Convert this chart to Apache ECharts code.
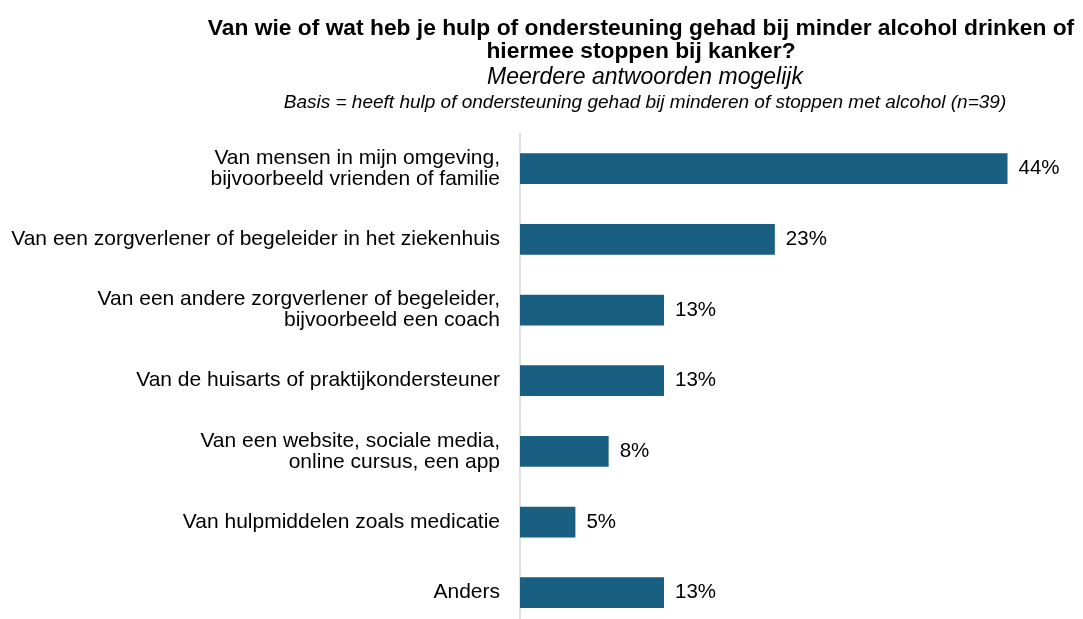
<!DOCTYPE html>
<html>
<head>
<meta charset="utf-8">
<script src="https://cdn.jsdelivr.net/npm/echarts@6/dist/echarts.min.js"></script>
<style>
  html, body { margin: 0; padding: 0; background: #fff; overflow: hidden; }
  /* the plot runs slightly past the lower edge of the page */
  #chart { width: 1083px; height: 628px; }
</style>
</head>
<body>
<div id="chart"></div>
<script>
// Answer categories (top to bottom) and share of respondents in percent
const categories = [
  'Van mensen in mijn omgeving,\nbijvoorbeeld vrienden of familie',
  'Van een zorgverlener of begeleider in het ziekenhuis',
  'Van een andere zorgverlener of begeleider,\nbijvoorbeeld een coach',
  'Van de huisarts of praktijkondersteuner',
  'Van een website, sociale media,\nonline cursus, een app',
  'Van hulpmiddelen zoals medicatie',
  'Anders'
];
const values = [44, 23, 13, 13, 8, 5, 13];

const titleLines = [
  'Van wie of wat heb je hulp of ondersteuning gehad bij minder alcohol drinken of',
  'hiermee stoppen bij kanker?'
];
const subtitle = 'Meerdere antwoorden mogelijk';
const basis = 'Basis = heeft hulp of ondersteuning gehad bij minderen of stoppen met alcohol (n=39)';

const FONT = '"Liberation Sans", Arial, sans-serif';
const chart = echarts.init(document.getElementById('chart'), null, { renderer: 'canvas' });

function titleBlock(text, cx, cy, size, weight, style) {
  return {
    text: text, left: cx, top: cy - size / 2, textAlign: 'center', padding: 0,
    textStyle: { fontFamily: FONT, fontSize: size, lineHeight: size,
      fontWeight: weight, fontStyle: style, color: '#000' }
  };
}

chart.setOption({
  backgroundColor: '#ffffff',
  animation: false,
  title: [
    titleBlock(titleLines[0], 641, 29, 22.8, 'bold', 'normal'),
    titleBlock(titleLines[1], 641, 52, 22.8, 'bold', 'normal'),
    titleBlock(subtitle, 645, 78, 23, 'normal', 'italic'),
    titleBlock(basis, 645, 103, 19, 'normal', 'italic')
  ],
  grid: { left: 520, right: 9, top: 133.4, bottom: 0, containLabel: false },
  xAxis: {
    type: 'value', min: 0, max: 50,
    show: false
  },
  yAxis: {
    type: 'category',
    data: categories,
    inverse: true,
    axisLine: { show: true, lineStyle: { color: '#d6d6d6', width: 1.5 } },
    axisTick: { show: false },
    splitLine: { show: false },
    axisLabel: {
      margin: 20,
      align: 'right',
      fontFamily: FONT, fontSize: 21, color: '#000', lineHeight: 21
    }
  },
  series: [{
    type: 'bar',
    data: values,
    barWidth: '43.5%',
    itemStyle: { color: '#185f82' },
    label: {
      show: true, position: 'right', distance: 11,
      formatter: '{c}%',
      fontFamily: FONT, fontSize: 20.5, color: '#000'
    }
  }]
});
</script>
</body>
</html>
